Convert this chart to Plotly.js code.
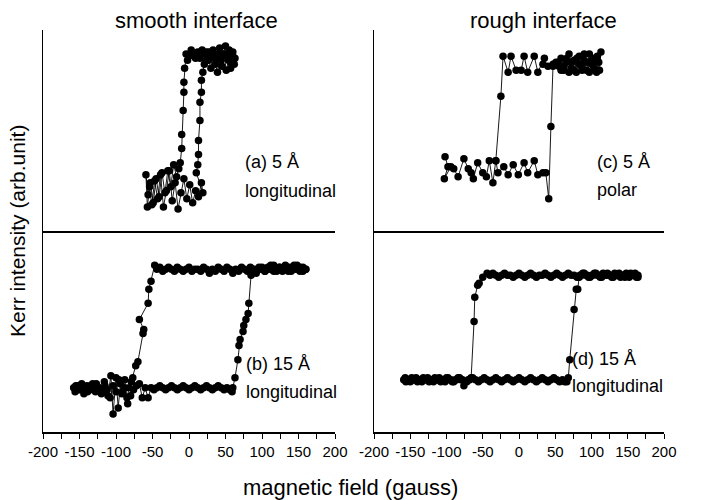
<!DOCTYPE html>
<html>
<head>
<meta charset="utf-8">
<script src="https://cdn.plot.ly/plotly-3.0.1.min.js"></script>
<style>html,body{margin:0;padding:0;background:#fff;}#chart{width:702px;height:500px;}</style>
</head>
<body>
<div id="chart"></div>
<script>
// ---- Data (magnetic field in gauss, Kerr intensity in arb. units 0-100) ----
// (a) smooth interface, 5 Å, longitudinal
const aX = [
63,60,57,55,52,50,47,44,42,39,
36,33,30,27,24,21,18,15,12,9,
6,3,0,-2,-4,-6,-7,-7,-8,-10,
-10,-12,-14,-17,-21,-25,-29,-33,-37,-41,
-45,-49,-53,-56,-59,-57,-54,-51,-47,-43,
-39,-35,-31,-27,-23,-19,-15,-11,-7,-3,
1,5,9,13,17,19,10,12,13,13,
15,15,17,17,19,21,24,27,30,33,
36,39,42,45,48,51,54,57,60,62
];
const aY = [
86,89,84,90,87,92,88,85,91,88,
86,90,87,89,85,88,90,86,89,86,
88,90,87,85,88,81,74,69,60,48,
41,34,31,27,33,22,30,19,29,17,
26,14,24,18,28,12,22,13,25,16,
28,12,20,30,15,24,11,19,26,16,
23,14,20,17,24,19,29,33,38,45,
55,64,69,75,79,83,89,85,81,87,
83,79,86,82,88,80,85,81,87,83
];
// (b) smooth interface, 15 Å, longitudinal
const bX = [
160,156,152,148,144,140,136,132,128,124,
120,116,112,108,104,100,96,92,88,84,
80,76,72,68,64,60,56,52,48,44,
40,36,32,28,24,20,16,12,8,4,
0,-4,-8,-12,-16,-20,-24,-28,-32,-36,
-40,-44,-47,-52,-55,-56,-68,-62,-63,-70,
-73,-77,-79,-82,-85,-88,-91,-94,-97,-100,
-104,-107,-111,-115,-119,-123,-127,-131,-135,-139,
-143,-147,-151,-155,-158,-156,-152,-148,-144,-140,
-136,-132,-128,-124,-120,-116,-112,-108,-104,-100,
-96,-92,-88,-84,-80,-76,-72,-68,-64,-60,
-56,-52,-48,-44,-40,-36,-32,-28,-24,-20,
-16,-12,-8,-4,0,4,8,12,16,20,
24,28,32,36,40,44,48,52,56,59,
60,63,67,68.5,70,74,75,78,81,82,
85,88,92,96,100,104,108,112,116,120,
124,128,132,136,140,144,148,152,156,160
];
const bY = [
81,80,82,81,83,80,82,81,80,82,
81,80,83,81,80,82,81,79,81,82,
80,81,82,80,81,79,81,82,80,81,
82,80,81,79,81,82,80,81,81,80,
82,81,80,81,82,80,81,82,81,80,
82,81,83,75,71,64,56,51,49,35,
33,27,25,22,17,26,20,24,12,27,
9,28,18,23,20,22,24,21,23,20,
22,24,21,23,22,20,23,21,19,23,
21,24,20,22,19,25,21,17,23,20,
26,19,22,14,18,21,23,24,17,22,
17,22,21,22,23,22,21,22,23,22,
21,22,23,22,21,22,23,22,21,22,
23,22,21,22,23,22,21,22,21,20,
22,27,36,43,46,50,53,56,59,64,
78,81,80,82,81,80,82,81,83,80,
82,81,83,80,82,81,83,80,82,81
];
// (c) rough interface, 5 Å, polar
const cX = [
-102,-98,-103,-94,-90,-84,-76,-70,-66,-63,
-57,-50,-45,-41,-36,-32,-29,-21,-15,-8,
-1,7,12,21,26,33,37,41,44,47,
51,55,58,62,65,69,72,76,79,83,
86,90,93,97,100,104,107,110,113,111,
108,104,101,97,94,90,87,83,80,76,
73,69,66,62,58,54,47,40,33,35,
26,21,12,7,3,-4,-11,-15,-22,-25,
-32
];
const cY = [
37,32,26,32,31,27,36,31,29,26,
34,29,27,35,24,35,29,32,28,33,
28,34,29,35,28,29,29,16,52,83,
84,82,86,80,84,88,81,85,79,87,
82,85,80,88,83,86,79,84,89,80,
87,81,85,79,84,88,80,83,86,80,
84,79,86,82,80,84,82,82,83,86,
79,87,79,87,80,80,87,79,87,67,
35
];
// (d) rough interface, 15 Å, longitudinal
const dX = [
164,160,156,152,148,144,140,136,132,128,
124,120,116,112,108,104,100,96,92,88,
84,80,76,72,68,64,60,56,52,48,
44,40,36,32,28,24,20,16,12,8,
4,0,-4,-8,-12,-16,-20,-24,-28,-32,
-36,-40,-44,-50,-55,-57,-61,-62,-66,-70,
-74,-78,-82,-86,-90,-94,-98,-102,-106,-110,
-114,-118,-122,-126,-130,-134,-138,-142,-146,-150,
-154,-157,-159,-156,-152,-148,-144,-140,-136,-132,
-128,-124,-120,-116,-112,-108,-104,-100,-96,-92,
-88,-84,-80,-76,-72,-68,-64,-60,-56,-52,
-48,-44,-40,-36,-32,-28,-24,-20,-16,-12,
-8,-4,0,4,8,12,16,20,24,28,
32,36,40,44,48,52,56,60,63,66,
68,70,76,79,81,83,86,90,94,98,
102,106,110,114,118,122,126,130,134,138,
142,146,150,154,158,162,164
];
const dY = [
77,79,78,77,79,78,77,78,79,77,
78,78,79,77,78,79,78,77,78,79,
78,77,78,78,79,78,77,78,79,78,
77,78,79,78,78,77,78,79,78,77,
78,79,78,77,78,78,79,78,77,78,
79,78,79,77,74,73,67,55,27,26,
25,26,27,26,25,26,27,25,26,27,
26,25,26,27,26,25,26,27,26,25,
26,27,26,25,26,27,26,25,26,27,
26,25,26,27,26,25,26,27,26,25,
26,27,26,23,25,26,27,26,25,26,
27,26,25,26,27,26,25,26,27,26,
25,26,27,26,25,26,27,26,25,26,
27,26,25,26,27,26,25,26,25,25,
27,36,61,71,71,77,78,79,78,77,
78,79,78,77,78,79,78,77,78,79,
78,77,78,79,78,77,78
];
const tickVals = [-200,-175,-150,-125,-100,-75,-50,-25,0,25,50,75,100,125,150,175,200];
const tickText = ["-200","","-150","","-100","","-50","","0","","50","","100","","150","","200"];

// ---- Layout helpers ----
const W = 702, H = 500;
const FONT = "Liberation Sans, Arial, Helvetica, sans-serif";
const px = v => v / W;
const py = v => 1 - v / H;
const leftDom = [px(43), px(335)];
const rightDom = [px(374), px(664)];
const botDom = [py(432), py(231)];
const topDom = [py(231), py(30)];

function trace(x, y, xa, ya) {
  return {x: x, y: y, xaxis: xa, yaxis: ya, type: 'scatter', mode: 'lines+markers',
    line: {color: '#000', width: 0.9},
    marker: {color: '#000', size: 7.5}, hoverinfo: 'skip', showlegend: false};
}
const traces = [
  trace(bX, bY, 'x', 'y'),
  trace(dX, dY, 'x2', 'y2'),
  trace(aX, aY, 'x3', 'y3'),
  trace(cX, cY, 'x4', 'y4')
];

function bottomX(dom, anchor) {
  return {domain: dom, anchor: anchor, range: [-200, 200], showline: true, linecolor: '#000', linewidth: 1.5,
    showgrid: false, zeroline: false, ticks: 'outside', ticklen: 5, tickwidth: 1, tickcolor: '#000',
    tickmode: 'array', tickvals: tickVals, ticktext: tickText,
    tickfont: {family: FONT, size: 15, color: '#000'}, fixedrange: true};
}
function topX(dom, anchor) {
  return {domain: dom, anchor: anchor, range: [-200, 200], showline: true, linecolor: '#000', linewidth: 1.5,
    showgrid: false, zeroline: false, ticks: '', showticklabels: false, fixedrange: true};
}
function yAx(dom, anchor) {
  return {domain: dom, anchor: anchor, range: [0, 100], showline: true, linecolor: '#000', linewidth: 1.5,
    showgrid: false, zeroline: false, ticks: '', showticklabels: false, fixedrange: true};
}
function ann(text, x, y, size, extra) {
  return Object.assign({text: text, xref: 'paper', yref: 'paper', x: px(x), y: py(y),
    xanchor: 'left', yanchor: 'middle', showarrow: false,
    font: {family: FONT, size: size, color: '#000'}}, extra || {});
}

const layout = {
  width: W, height: H,
  margin: {l: 0, r: 0, t: 0, b: 0},
  paper_bgcolor: '#fff', plot_bgcolor: 'rgba(0,0,0,0)',
  showlegend: false,
  xaxis: bottomX(leftDom, 'y'),
  yaxis: yAx(botDom, 'x'),
  xaxis2: bottomX(rightDom, 'y2'),
  yaxis2: yAx(botDom, 'x2'),
  xaxis3: topX(leftDom, 'y3'),
  yaxis3: yAx(topDom, 'x3'),
  xaxis4: topX(rightDom, 'y4'),
  yaxis4: yAx(topDom, 'x4'),
  annotations: [
    ann('smooth interface', 196, 20, 22, {xanchor: 'center'}),
    ann('rough interface', 543, 20, 22, {xanchor: 'center'}),
    ann('magnetic field (gauss)', 350, 487, 22, {xanchor: 'center'}),
    ann('Kerr intensity (arb.unit)', 18, 231, 21, {xanchor: 'center', textangle: -90}),
    ann('(a) 5 Å', 243, 162, 18),
    ann('longitudinal', 243, 191, 18),
    ann('(c) 5 Å', 595, 162, 18),
    ann('polar', 595, 190, 18),
    ann('(b) 15 Å', 244, 364, 18),
    ann('longitudinal', 244, 392, 18),
    ann('(d) 15 Å', 570, 359, 18),
    ann('longitudinal', 570, 386, 18)
  ]
};

Plotly.newPlot('chart', traces, layout, {staticPlot: true, displayModeBar: false});
</script>
</body>
</html>
